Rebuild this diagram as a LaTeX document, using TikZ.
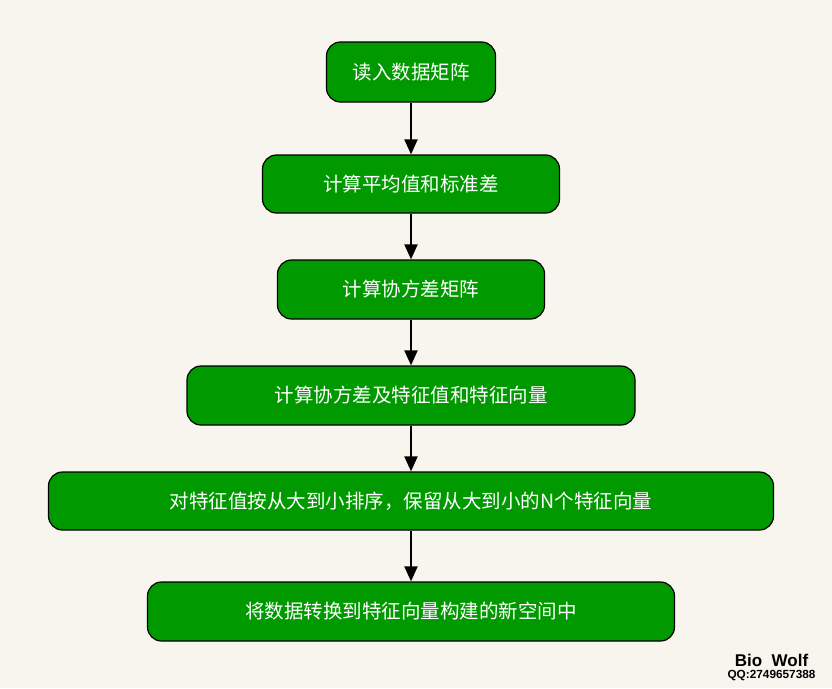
\documentclass[tikz,border=0pt]{standalone}
\usepackage{fontspec}
\setmainfont{Liberation Sans}
\newfontfamily\cjk{Noto Sans CJK SC}
\usetikzlibrary{arrows.meta}
\definecolor{bg}{HTML}{F8F5EF}
\definecolor{boxgreen}{HTML}{009900}
\begin{document}
\begin{tikzpicture}[x=1pt,y=-1pt,
  stepbox/.style={draw=black,line width=1.2pt,fill=boxgreen,rounded corners=14pt,
    text=white,font=\cjk\fontsize{19.5}{22}\selectfont,inner sep=0pt,anchor=center},
  flow/.style={draw=black,line width=2pt,-{Triangle[length=15pt,width=13pt]}}]
\fill[bg] (0,0) rectangle (832,688);
\useasboundingbox (0,0) rectangle (832,688);
\node[stepbox,minimum width=169pt,minimum height=60pt] (a) at (411,72) {读入数据矩阵};
\node[stepbox,minimum width=297pt,minimum height=58pt] (b) at (411,184) {计算平均值和标准差};
\node[stepbox,minimum width=267pt,minimum height=59pt] (c) at (411,289.5) {计算协方差矩阵};
\node[stepbox,minimum width=448pt,minimum height=59pt] (d) at (411,395.5) {计算协方差及特征值和特征向量};
\node[stepbox,minimum width=725pt,minimum height=58pt] (e) at (411,501) {对特征值按从大到小排序，保留从大到小的N个特征向量};
\node[stepbox,minimum width=527pt,minimum height=59pt] (f) at (411,611.5) {将数据转换到特征向量构建的新空间中};
\draw[flow] (a.south) -- (b.north);
\draw[flow] (b.south) -- (c.north);
\draw[flow] (c.south) -- (d.north);
\draw[flow] (d.south) -- (e.north);
\draw[flow] (e.south) -- (f.north);
\node[font=\bfseries\fontsize{17}{19}\selectfont,anchor=center] (w1) at (771.5,660) {Bio\ \ Wolf};
\node[font=\bfseries\fontsize{11.8}{13}\selectfont,anchor=center] (w2) at (771.5,676) {QQ:2749657388};
\end{tikzpicture}
\end{document}
